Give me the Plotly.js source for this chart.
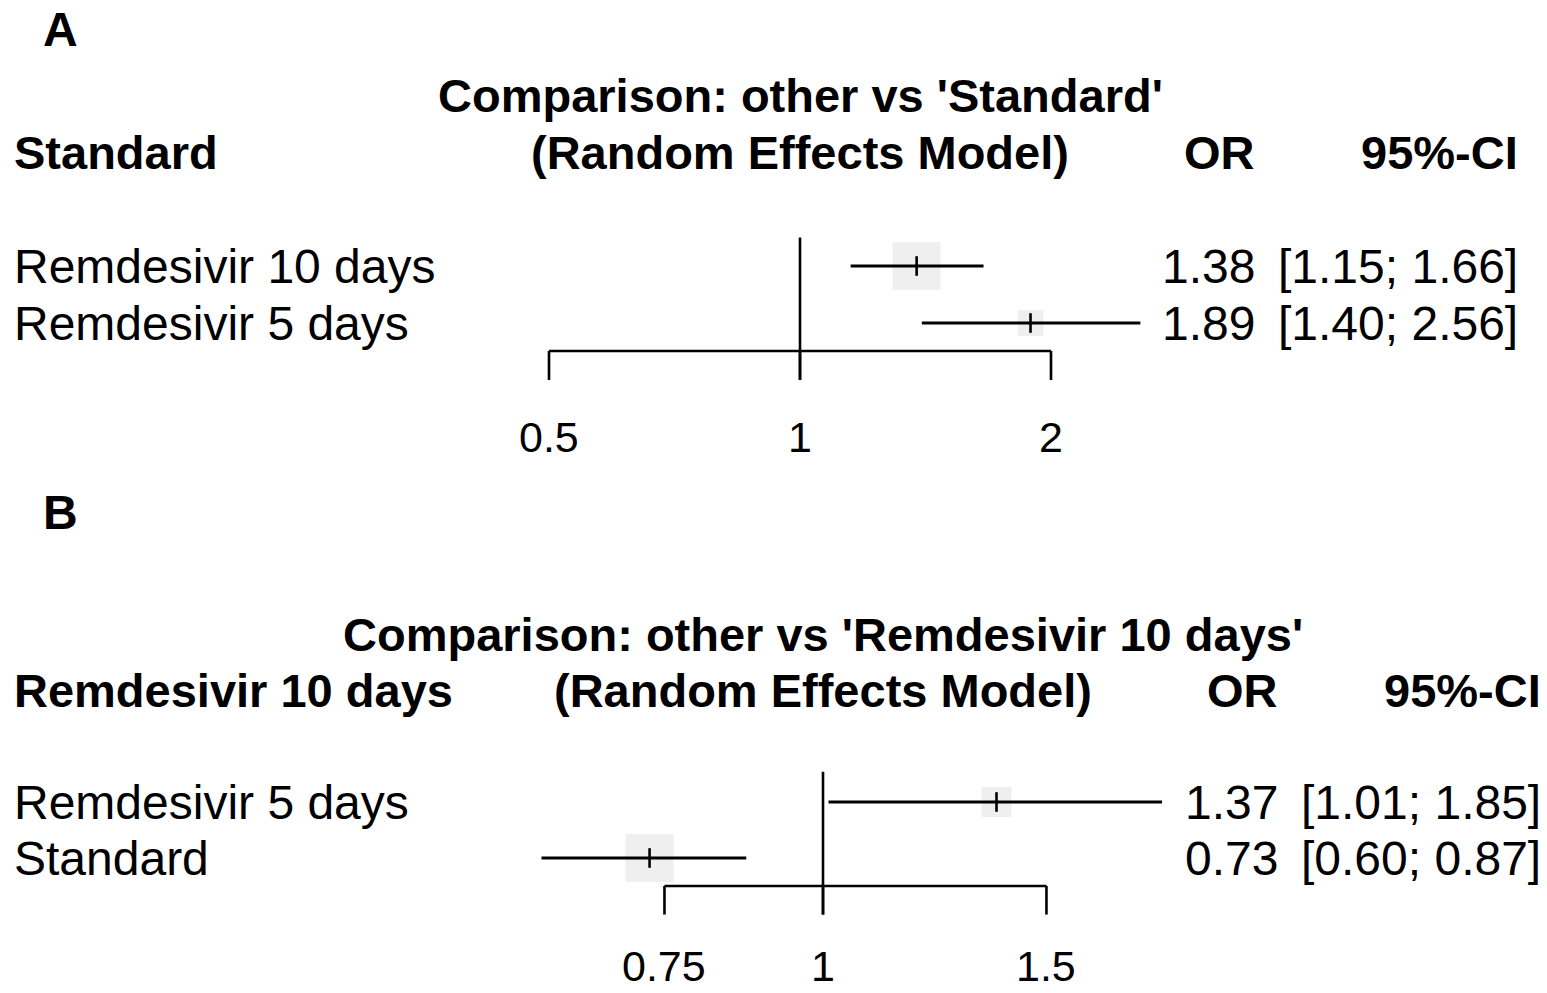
<!DOCTYPE html>
<html>
<head>
<meta charset="utf-8">
<script src="https://cdn.plot.ly/plotly-3.0.1.min.js"></script>
<style>html,body{margin:0;padding:0;background:#fff;}#chart{width:1547px;height:993px;}</style>
</head>
<body>
<div id="chart"></div>
<script>
// ---------- Data ----------
const refA = 'Standard';
const titleA = "Comparison: other vs 'Standard'";
const labelsA = ['Remdesivir 10 days', 'Remdesivir 5 days'];
const orA = [1.38, 1.89];
const loA = [1.15, 1.40];
const hiA = [1.66, 2.56];
const ticksA = [0.5, 1, 2];
const tickTextA = ['0.5', '1', '2'];

const refB = 'Remdesivir 10 days';
const titleB = "Comparison: other vs 'Remdesivir 10 days'";
const labelsB = ['Remdesivir 5 days', 'Standard'];
const orB = [1.37, 0.73];
const loB = [1.01, 0.60];
const hiB = [1.85, 0.87];
const ticksB = [0.75, 1, 1.5];
const tickTextB = ['0.75', '1', '1.5'];

// ---------- Style ----------
const W = 1547, H = 993;
const FONT = 'Liberation Sans, Arial, sans-serif';
const REG = 48, BOLD = 47, TICK = 43;
const sqSizeA = [48, 26];
const sqSizeB = [30, 48];
const sqColor = '#e8e8e8';

function px(x) { return x / W; }

const traces = [];
const shapes = [];
const annotations = [];

function panel(opt) {
  const n = opt.labels.length;
  const rows = opt.labels.map((_, i) => i);
  // squares
  traces.push({
    type: 'scatter', mode: 'markers', xaxis: opt.xa, yaxis: opt.ya,
    x: opt.or, y: rows, cliponaxis: false, hoverinfo: 'skip',
    marker: { symbol: 'square', size: opt.sq, color: sqColor, line: { width: 0 } }
  });
  // CI lines
  const cx = [], cy = [];
  for (let i = 0; i < n; i++) { cx.push(opt.lo[i], opt.hi[i], null); cy.push(i, i, null); }
  traces.push({
    type: 'scatter', mode: 'lines', xaxis: opt.xa, yaxis: opt.ya,
    x: cx, y: cy, cliponaxis: false, hoverinfo: 'skip',
    line: { color: '#000', width: 3 }
  });
  // point estimate ticks
  traces.push({
    type: 'scatter', mode: 'markers', xaxis: opt.xa, yaxis: opt.ya,
    x: opt.or, y: rows, cliponaxis: false, hoverinfo: 'skip',
    marker: { symbol: 'line-ns', size: 14, line: { color: '#000', width: 2.6 } }
  });
  const xr = opt.xa;
  const yr = opt.ya;
  const lw = 2.6;
  // reference line at 1
  shapes.push({ type: 'line', xref: xr, yref: yr, x0: 1, x1: 1, y0: opt.refTop, y1: opt.axisY + 0.51,
    line: { color: '#000', width: lw } });
  // axis bracket
  const t = opt.ticks;
  shapes.push({ type: 'line', xref: xr, yref: yr, x0: t[0], x1: t[t.length - 1], y0: opt.axisY, y1: opt.axisY,
    line: { color: '#000', width: lw } });
  t.forEach(v => {
    shapes.push({ type: 'line', xref: xr, yref: yr, x0: v, x1: v, y0: opt.axisY, y1: opt.axisY + 0.51,
      line: { color: '#000', width: lw } });
  });
  // tick labels (annotation x on a log axis is given in log10 units)
  t.forEach((v, i) => {
    annotations.push({ xref: xr, yref: yr, x: Math.log10(v), y: opt.tickY, text: opt.tickText[i], showarrow: false,
      xanchor: 'center', yanchor: 'middle', font: { family: FONT, size: TICK, color: '#000' } });
  });
  // headers
  const bold = { family: FONT, size: BOLD, color: '#000' };
  annotations.push({ xref: xr, yref: yr, x: 0, y: -3, text: '<b>' + opt.title + '</b>', showarrow: false,
    xanchor: 'center', yanchor: 'middle', font: bold });
  annotations.push({ xref: xr, yref: yr, x: 0, y: -2, text: '<b>(Random Effects Model)</b>', showarrow: false,
    xanchor: 'center', yanchor: 'middle', font: bold });
  annotations.push({ xref: 'paper', yref: yr, x: px(12), y: -2, text: '<b>' + opt.ref + '</b>', showarrow: false,
    xanchor: 'left', yanchor: 'middle', font: bold });
  annotations.push({ xref: 'paper', yref: yr, x: px(opt.orX), y: -2, text: '<b>OR</b>', showarrow: false,
    xanchor: 'right', yanchor: 'middle', font: bold });
  annotations.push({ xref: 'paper', yref: yr, x: px(opt.ciX), y: -2, text: '<b>95%-CI</b>', showarrow: false,
    xanchor: 'right', yanchor: 'middle', font: bold });
  // rows
  const reg = { family: FONT, size: REG, color: '#000' };
  for (let i = 0; i < n; i++) {
    annotations.push({ xref: 'paper', yref: yr, x: px(12), y: i, text: opt.labels[i], showarrow: false,
      xanchor: 'left', yanchor: 'middle', font: reg });
    annotations.push({ xref: 'paper', yref: yr, x: px(opt.orX), y: i, text: opt.or[i].toFixed(2), showarrow: false,
      xanchor: 'right', yanchor: 'middle', font: reg });
    annotations.push({ xref: 'paper', yref: yr, x: px(opt.ciX), y: i,
      text: '[' + opt.lo[i].toFixed(2) + '; ' + opt.hi[i].toFixed(2) + ']', showarrow: false,
      xanchor: 'right', yanchor: 'middle', font: reg });
  }
}

panel({ xa: 'x', ya: 'y', labels: labelsA, or: orA, lo: loA, hi: hiA, ticks: ticksA, tickText: tickTextA,
  sq: sqSizeA, title: titleA, ref: refA, orX: 1257, ciX: 1520, refTop: -0.5, axisY: 1.49, tickY: 3.0 });
panel({ xa: 'x2', ya: 'y2', labels: labelsB, or: orB, lo: loB, hi: hiB, ticks: ticksB, tickText: tickTextB,
  sq: sqSizeB, title: titleB, ref: refB, orX: 1280, ciX: 1543, refTop: -0.54, axisY: 1.5, tickY: 2.93 });

annotations.push({ xref: 'paper', yref: 'paper', x: px(41), y: 1 - 30 / H, text: '<b>A</b>', showarrow: false,
  xanchor: 'left', yanchor: 'middle', font: { family: FONT, size: 48, color: '#000' } });
annotations.push({ xref: 'paper', yref: 'paper', x: px(41), y: 1 - 512 / H, text: '<b>B</b>', showarrow: false,
  xanchor: 'left', yanchor: 'middle', font: { family: FONT, size: 48, color: '#000' } });

const hidden = { visible: false, fixedrange: true, showgrid: false, zeroline: false };
const layout = {
  width: W, height: H,
  margin: { l: 0, r: 0, t: 0, b: 0, pad: 0 },
  paper_bgcolor: '#fff', plot_bgcolor: 'rgba(0,0,0,0)',
  showlegend: false,
  xaxis: Object.assign({}, hidden, { type: 'log', domain: [0, 1], anchor: 'y', range: [-0.95946, 0.89589] }),
  yaxis: Object.assign({}, hidden, { domain: [0.5, 1], anchor: 'x', range: [4.0439, -4.6667] }),
  xaxis2: Object.assign({}, hidden, { type: 'log', domain: [0, 1], anchor: 'y2', range: [-0.64855, 0.57053] }),
  yaxis2: Object.assign({}, hidden, { domain: [0, 0.5], anchor: 'x2', range: [3.4107, -5.4554] }),
  shapes: shapes,
  annotations: annotations
};

Plotly.newPlot('chart', traces, layout, { staticPlot: true, displayModeBar: false });
</script>
</body>
</html>
